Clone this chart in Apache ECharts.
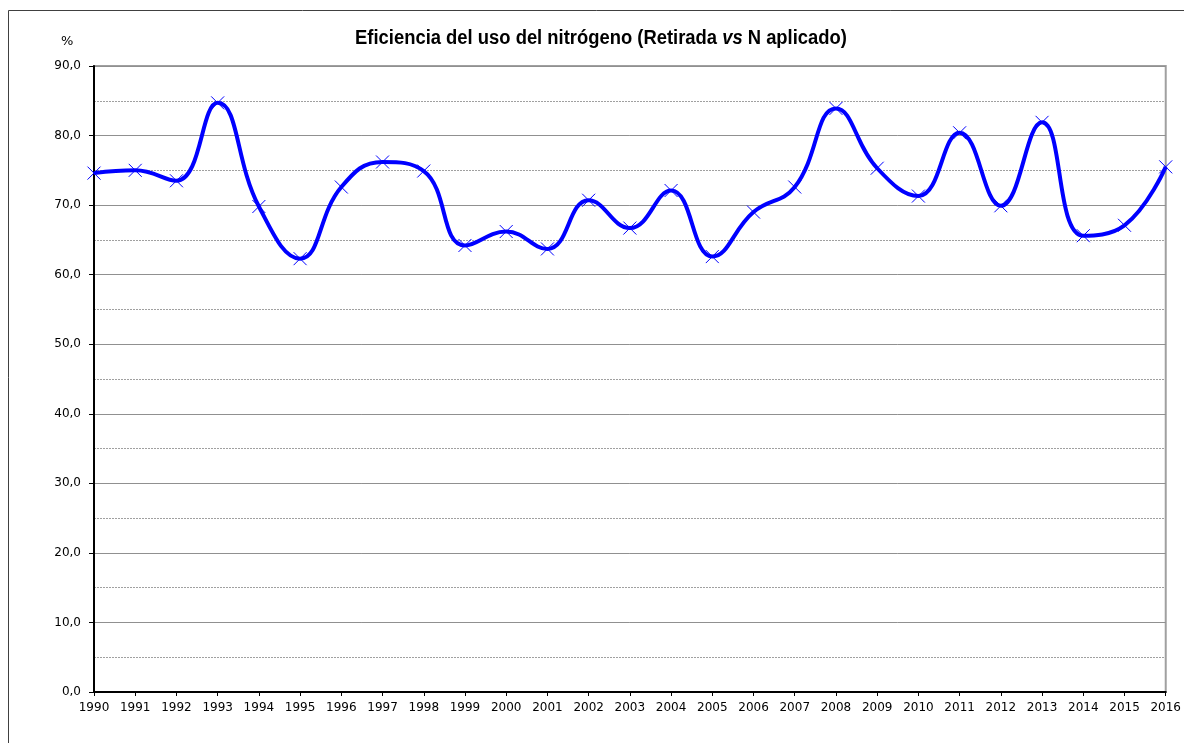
<!DOCTYPE html>
<html>
<head>
<meta charset="utf-8">
<script src="https://cdn.jsdelivr.net/npm/echarts@6/dist/echarts.min.js"></script>
<style>
  html, body { margin: 0; padding: 0; background: #fff; }
  #chart { width: 1184px; height: 743px; }
</style>
</head>
<body>
<div id="chart"></div>
<script>
const years = ['1990', '1991', '1992', '1993', '1994', '1995', '1996', '1997', '1998', '1999',
  '2000', '2001', '2002', '2003', '2004', '2005', '2006', '2007', '2008', '2009',
  '2010', '2011', '2012', '2013', '2014', '2015', '2016'];
const efficiency = [74.6, 75.0, 73.5, 84.7, 69.8, 62.3, 72.6, 76.2, 74.9, 64.2,
  66.2, 63.7, 70.7, 66.7, 72.1, 62.6, 69.0, 72.6, 83.9, 75.3,
  71.3, 80.4, 69.9, 81.9, 65.6, 67.1, 75.5];

const labelFont = 'Tahoma, "DejaVu Sans", sans-serif';
const titleFont = '"Liberation Sans Narrow", "Liberation Sans", Arial, sans-serif';

const chart = echarts.init(document.getElementById('chart'));
chart.setOption({
  animation: false,
  backgroundColor: '#fff',
  graphic: [
    {
      type: 'rect',
      shape: { x: 8.5, y: 10.5, width: 1190, height: 760 },
      style: { fill: 'none', stroke: '#404040', lineWidth: 1 },
      silent: true
    },
    {
      type: 'text',
      x: 601,
      y: 48,
      scaleX: 0.92,
      style: {
        text: 'Eficiencia del uso del nitrógeno (Retirada {i|vs} N aplicado)',
        font: 'bold 20px ' + titleFont,
        fill: '#000',
        align: 'center',
        verticalAlign: 'bottom',
        rich: {
          i: { fontFamily: titleFont, fontSize: 20, fontWeight: 'bold', fontStyle: 'italic', fill: '#000' }
        }
      }
    },
    {
      type: 'text',
      left: 61,
      top: 35,
      style: { text: '%', font: '13px ' + labelFont, fill: '#000' }
    }
  ],
  grid: { left: 94, right: 15, top: 66, bottom: 51, show: true, borderColor: '#a0a0a0', borderWidth: 2 },
  xAxis: {
    type: 'category',
    data: years,
    boundaryGap: false,
    axisLine: { lineStyle: { color: '#000', width: 2 } },
    axisTick: { show: true, length: 4, interval: 0, lineStyle: { color: '#000' } },
    axisLabel: { interval: 0, color: '#000', fontSize: 12, fontFamily: labelFont, margin: 10 },
    splitLine: { show: false }
  },
  yAxis: {
    type: 'value',
    min: 0,
    max: 90,
    interval: 10,
    axisLine: { show: true, lineStyle: { color: '#000', width: 2 } },
    axisTick: { show: true, length: 5, lineStyle: { color: '#000' } },
    axisLabel: {
      color: '#000', fontSize: 12, fontFamily: labelFont, margin: 13,
      formatter: v => v.toFixed(1).replace('.', ',')
    },
    splitLine: { show: true, lineStyle: { color: '#909090', width: 1 } },
    minorTick: { show: false, splitNumber: 2 },
    minorSplitLine: { show: true, lineStyle: { color: '#a0a0a0', type: [2, 1], width: 1 } }
  },
  series: [
    {
      type: 'line',
      data: efficiency,
      smooth: 0.45,
      symbol: 'path://M0,0L10,10M10,0L0,10',
      symbolSize: 13,
      showAllSymbol: true,
      lineStyle: { color: '#0000ff', width: 4 },
      itemStyle: { color: 'none', borderColor: '#0000ff', borderWidth: 1 },
      z: 3
    }
  ]
});
</script>
</body>
</html>
